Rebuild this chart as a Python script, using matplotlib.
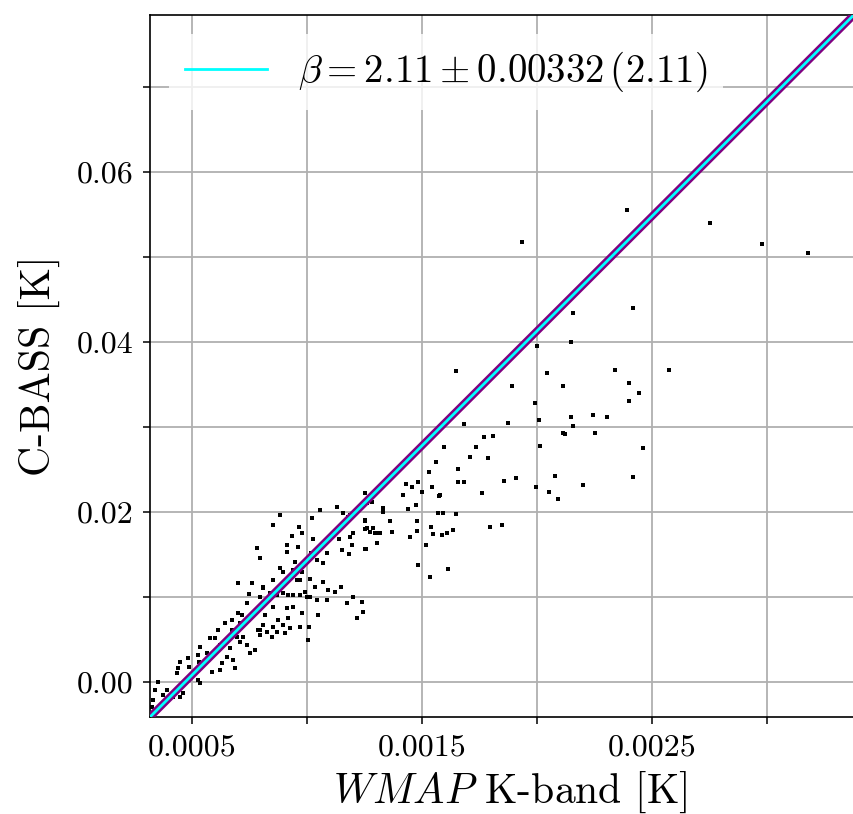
import numpy as np
import matplotlib
matplotlib.use('Agg')
import matplotlib.pyplot as plt
from matplotlib.ticker import MultipleLocator, FuncFormatter

plt.rcParams['font.family'] = 'serif'
plt.rcParams['font.serif'] = ['cmr10']
plt.rcParams['mathtext.fontset'] = 'cm'
plt.rcParams['axes.unicode_minus'] = False
plt.rcParams['axes.formatter.use_mathtext'] = True

# WMAP K-band vs C-BASS pixel temperatures (in mK)
wmap_mK = [
    2.391, 1.935, 2.752, 2.978, 3.178, 2.417, 2.157, 2.148, 2.000, 1.648,
    2.043, 2.339, 2.574, 1.891, 2.113, 2.400, 2.443, 2.400, 1.991, 2.009,
    1.874, 1.683, 2.148, 2.243, 2.304, 2.157, 2.113, 2.122, 2.252, 1.770,
    1.809, 1.596, 1.735, 1.709, 1.787, 2.013, 2.461, 1.657, 1.657, 1.683,
    1.857, 1.909, 2.078, 2.417, 2.200, 1.996, 2.052, 2.091, 1.761, 1.578,
    1.530, 1.561, 1.430, 1.457, 1.483, 1.417, 1.500, 1.543, 1.574, 1.474,
    1.439, 1.330, 1.330, 1.570, 1.591, 1.648, 1.361, 1.478, 1.287, 1.304,
    1.317, 1.370, 1.478, 1.539, 1.548, 1.587, 1.609, 1.635, 1.448, 1.304,
    1.517, 1.483, 1.613, 1.535, 1.252, 1.265, 1.283, 1.187, 1.252, 1.200,
    1.252, 1.274, 1.252, 1.796, 1.848,
    0.883, 0.852, 1.022, 1.057, 1.130, 1.157, 1.178, 1.261, 0.965, 0.978,
    0.935, 0.913, 0.961, 0.913, 1.026, 1.017, 1.048, 1.087, 1.139, 1.196,
    1.187, 1.252, 1.261, 1.296, 1.152, 1.183, 1.257, 0.948, 0.983, 1.043,
    1.070, 0.883, 0.896, 0.939, 0.978, 0.852, 0.957, 0.970, 1.013, 1.070,
    1.091, 1.122, 1.148, 1.035, 0.809, 0.839, 0.870, 0.896, 0.917, 0.939,
    0.970, 0.991, 1.000, 1.013, 1.043, 1.087, 1.174, 1.200, 1.239, 1.243,
    1.217, 1.048, 0.852, 0.913, 0.939, 0.978, 0.817, 0.917, 0.874, 0.809,
    0.852, 0.896, 0.926, 0.796, 0.826, 0.870, 0.904, 0.970, 1.009, 0.796,
    0.848, 1.004,
    0.700, 0.761, 0.809, 0.748, 0.796, 0.739, 0.700, 0.717, 0.674, 0.643,
    0.709, 0.613, 0.674, 0.787, 0.578, 0.600, 0.696, 0.709, 0.722, 0.622,
    0.665, 0.739, 0.752, 0.774, 0.535, 0.526, 0.565, 0.652, 0.678, 0.483,
    0.530, 0.448, 0.630, 0.687, 0.587, 0.622, 0.487, 0.439, 0.526, 0.535,
    0.352, 0.391, 0.339, 0.417, 0.448, 0.330, 0.326, 0.374, 0.783, 0.796,
    0.435, 0.461,
]
cbass_mK = [
    55.6, 51.8, 54.0, 51.5, 50.5, 44.0, 43.4, 40.0, 39.5, 36.6,
    36.4, 36.7, 36.7, 34.8, 34.8, 35.2, 34.0, 33.1, 32.8, 30.8,
    30.5, 30.4, 31.2, 31.4, 31.2, 30.1, 29.3, 29.2, 29.3, 28.8,
    28.9, 27.6, 27.6, 26.5, 26.4, 27.8, 27.5, 25.1, 23.5, 23.5,
    23.6, 24.0, 24.2, 24.1, 23.2, 22.9, 22.4, 21.5, 22.2, 22.0,
    24.7, 25.9, 23.3, 22.9, 23.5, 22.0, 22.4, 22.9, 21.9, 20.8,
    20.4, 20.5, 20.0, 19.9, 19.9, 19.8, 18.9, 18.9, 18.1, 17.5,
    17.5, 17.6, 17.8, 18.2, 17.4, 17.3, 17.5, 17.9, 17.1, 16.4,
    16.1, 13.8, 13.3, 12.4, 22.2, 21.3, 21.2, 19.6, 18.9, 17.5,
    18.0, 17.6, 15.6, 18.2, 18.5,
    19.6, 18.5, 19.3, 20.2, 20.6, 19.9, 19.4, 21.1, 18.2, 17.5,
    17.2, 16.1, 15.9, 15.3, 16.8, 15.2, 15.8, 15.2, 16.8, 16.1,
    17.1, 19.1, 18.1, 17.5, 15.5, 15.1, 15.6, 14.1, 14.0, 14.4,
    14.0, 13.4, 12.9, 13.2, 12.9, 12.0, 12.0, 12.0, 12.1, 11.8,
    10.8, 10.6, 11.2, 11.2, 11.1, 10.5, 10.2, 10.5, 10.2, 10.2,
    10.2, 10.6, 10.0, 10.0, 9.6, 9.6, 9.3, 10.0, 9.4, 8.2,
    7.5, 7.9, 8.8, 8.7, 8.8, 8.1, 7.9, 7.5, 7.3, 6.7,
    6.5, 6.7, 6.4, 6.1, 5.9, 5.9, 5.8, 6.5, 6.5, 5.5,
    5.3, 4.9,
    11.6, 11.6, 11.2, 10.4, 10.0, 9.3, 8.1, 7.9, 7.3, 6.9,
    6.9, 6.1, 6.1, 6.1, 5.2, 5.2, 5.3, 4.7, 5.3, 4.4,
    4.0, 4.4, 3.4, 3.8, 4.1, 3.2, 3.4, 2.9, 2.6, 2.8,
    2.4, 2.4, 2.2, 1.6, 1.2, 1.4, 1.8, 1.6, 0.2, -0.1,
    0.0, -0.9, -0.9, -1.8, -1.8, -2.1, -2.9, -1.5, 15.8, 14.6,
    1.1, -1.3,
]

# fitted line (slope ~ (nu_K/nu_C)^beta) and offset
slope = 27.0
offset = -0.01269
fit_label = r'$\beta = 2.11 \pm 0.00332\,(2.11)$'

x = np.array(wmap_mK) * 1e-3
y = np.array(cbass_mK) * 1e-3

fig = plt.figure(figsize=(8.54, 8.14), dpi=100)
ax = fig.add_axes([150 / 854, 97 / 814, 720 / 854, 702 / 814])

xlim = (0.0003174, 0.003448)
ylim = (-0.00412, 0.0785)

ax.scatter(x, y, s=10, marker='s', c='k', linewidths=0, zorder=3)

xx = np.array(xlim)
ax.plot(xx, slope * xx + offset, color='purple', lw=5.5, zorder=4)
ax.plot(xx, slope * xx + offset, color='cyan', lw=2, zorder=5, label=fit_label)

ax.set_xlim(xlim)
ax.set_ylim(ylim)

ax.xaxis.set_major_locator(MultipleLocator(0.0005))
ax.yaxis.set_major_locator(MultipleLocator(0.01))


def xfmt(v, p):
    k = int(round(v / 0.0005))
    return '%.4f' % v if k % 2 == 1 else ''


def yfmt(v, p):
    k = int(round(v / 0.01))
    return '%.2f' % abs(v) if k % 2 == 0 else ''


ax.xaxis.set_major_formatter(FuncFormatter(xfmt))
ax.yaxis.set_major_formatter(FuncFormatter(yfmt))

ax.grid(True, color='#b0b0b0', lw=1.3)
ax.set_axisbelow(True)
ax.tick_params(direction='out', length=5, width=1.1, labelsize=23, pad=7)
for s in ax.spines.values():
    s.set_linewidth(1.2)

ax.set_xlabel(r'$\mathit{WMAP}$ K-band [K]', fontsize=30, labelpad=6)
ax.set_ylabel('C-BASS [K]', fontsize=30, labelpad=12)

leg = ax.legend(loc='upper left', fontsize=28, handlelength=2.1,
                handletextpad=0.8, framealpha=0.8)
leg.get_frame().set_edgecolor('none')

fig.savefig('out.png', dpi=100)
